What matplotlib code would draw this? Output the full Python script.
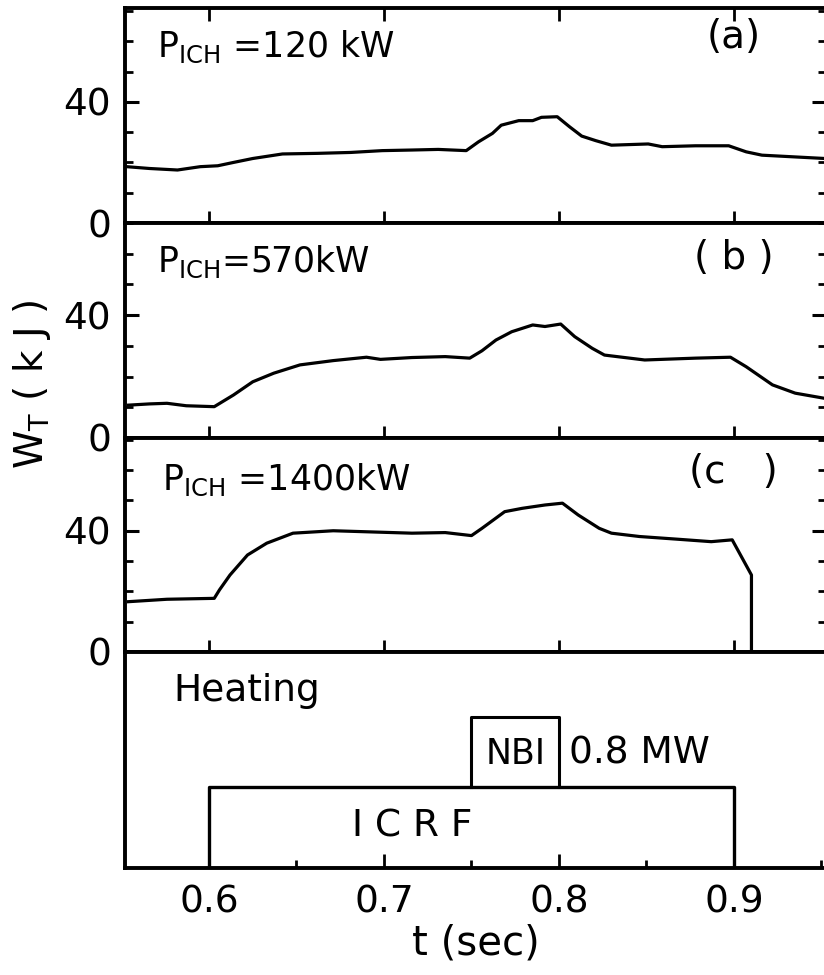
import matplotlib
matplotlib.use("Agg")
import matplotlib.pyplot as plt
from matplotlib.ticker import MultipleLocator

# W_T traces (t in sec, W_T in kJ)
t_a = [0.553, 0.566, 0.582, 0.595, 0.605, 0.614, 0.625, 0.642, 0.662, 0.681, 0.699,
       0.716, 0.731, 0.747, 0.754, 0.762, 0.767, 0.777, 0.785, 0.790, 0.799, 0.806,
       0.813, 0.821, 0.830, 0.851, 0.859, 0.878, 0.897, 0.907, 0.916, 0.952]
w_a = [18.6, 18.0, 17.5, 18.6, 18.9, 20.0, 21.3, 22.8, 23.0, 23.3, 23.9,
       24.1, 24.3, 23.9, 26.8, 29.6, 32.3, 33.8, 33.8, 34.9, 35.1, 31.8,
       28.7, 27.2, 25.7, 26.1, 25.2, 25.5, 25.5, 23.5, 22.4, 21.3]

t_b = [0.554, 0.566, 0.576, 0.587, 0.603, 0.614, 0.625, 0.637, 0.652, 0.671, 0.690,
       0.698, 0.716, 0.735, 0.749, 0.756, 0.764, 0.773, 0.785, 0.792, 0.801, 0.809,
       0.819, 0.826, 0.849, 0.878, 0.898, 0.907, 0.922, 0.935, 0.952]
w_b = [10.7, 11.1, 11.3, 10.5, 10.2, 14.0, 18.3, 21.1, 23.8, 25.2, 26.3,
       25.6, 26.2, 26.5, 26.0, 28.4, 31.9, 34.6, 36.8, 36.3, 37.1, 33.0,
       29.2, 27.0, 25.4, 26.0, 26.3, 23.2, 17.3, 14.6, 12.9]

t_c = [0.554, 0.576, 0.603, 0.606, 0.612, 0.622, 0.633, 0.648, 0.671, 0.716, 0.735,
       0.750, 0.756, 0.769, 0.779, 0.792, 0.802, 0.811, 0.823, 0.830, 0.846, 0.868,
       0.887, 0.899, 0.910, 0.910]
w_c = [16.6, 17.4, 17.7, 20.5, 25.4, 32.0, 35.9, 39.2, 40.0, 39.2, 39.4,
       38.4, 40.8, 46.3, 47.4, 48.5, 49.1, 45.2, 40.8, 39.2, 38.1, 37.2,
       36.4, 37.0, 25.4, 0.0]

times = [t_a, t_b, t_c]
traces = [w_a, w_b, w_c]
powers = ["120 kW", "570kW", "1400kW"]
tags = ["(a)", "( b )", "(c   )"]
ytops = [71, 70, 70.6]

# heating waveform
icrf_on, icrf_off, icrf_level = 0.60, 0.90, 0.375
nbi_on, nbi_off, nbi_level = 0.75, 0.80, 0.70

xlim = (0.552, 0.9526)

plt.rcParams['font.family'] = ['DejaVu Sans']
plt.rcParams['mathtext.default'] = 'regular'

fig = plt.figure(figsize=(8.24, 9.75), dpi=100)
W, H = 824.0, 975.0
left = 125 / W
width = 701 / W
edges = [8, 223, 438, 652, 868]

lw_spine = 2.8
fs = 27

axes = []
for i in range(4):
    top, bot = edges[i], edges[i + 1]
    ax = fig.add_axes([left, 1 - bot / H, width, (bot - top) / H])
    for s in ax.spines.values():
        s.set_linewidth(lw_spine)
    ax.set_xlim(*xlim)
    axes.append(ax)

for i in range(3):
    ax = axes[i]
    ax.plot(times[i], traces[i], color='black', lw=2.3, solid_joinstyle='round')
    ax.set_ylim(0, ytops[i])
    ax.set_yticks([0, 40])
    ax.yaxis.set_minor_locator(MultipleLocator(10))
    ax.set_xticks([0.6, 0.7, 0.8, 0.9])
    ax.tick_params(axis='y', which='both', direction='in', left=True, right=True,
                   labelsize=fs, pad=10)
    ax.tick_params(axis='y', which='major', length=10, width=2.2)
    ax.tick_params(axis='y', which='minor', length=6, width=2.0)
    ax.tick_params(axis='x', which='major', direction='in', length=9, width=2.0,
                   bottom=True, top=(i == 0), labelbottom=False)
    ax.text(0.046 if i < 2 else 0.053, 0.77 if i < 2 else 0.757,
            r"$P_{ICH}$" + (" =" if i != 1 else "=") + powers[i],
            transform=ax.transAxes, fontsize=fs - 2, va='baseline', ha='left')
    ax.text(0.868, [0.865, 0.837, 0.84][i], tags[i], transform=ax.transAxes,
            fontsize=fs + 1, va='center', ha='center')

# heating panel
axh = axes[3]
axh.plot([icrf_on, icrf_on, icrf_off, icrf_off], [0, icrf_level, icrf_level, 0],
         color='black', lw=2.4)
axh.plot([nbi_on, nbi_on, nbi_off, nbi_off], [icrf_level, nbi_level, nbi_level, icrf_level],
         color='black', lw=2.2)
axh.set_ylim(0, 1)
axh.set_yticks([])
axh.set_xticks([0.6, 0.7, 0.8, 0.9])
axh.set_xticklabels(["0.6", "0.7", "0.8", "0.9"])
axh.xaxis.set_minor_locator(MultipleLocator(0.05))
axh.tick_params(axis='x', which='major', direction='in', length=10, width=2.0,
                labelsize=fs, pad=12)
axh.tick_params(axis='x', which='minor', direction='in', length=6, width=2.0)
axh.text(0.069, 0.82, "Heating", transform=axh.transAxes, fontsize=fs, va='center')
axh.text((nbi_on + nbi_off) / 2, 0.53, "NBI", fontsize=fs - 2, ha='center', va='center')
axh.text(nbi_off + 0.006, 0.53, "0.8 MW", fontsize=fs, ha='left', va='center')
axh.text(0.716, 0.19, "I C R F", fontsize=fs, ha='center', va='center')
axh.set_xlabel("t (sec)", fontsize=fs + 2, labelpad=2)

fig.text(32 / W, 1 - 385 / H, r"$W_T$ ( k J )", rotation=90, fontsize=fs + 1,
         ha='center', va='center')

fig.savefig("out.png", dpi=100)
